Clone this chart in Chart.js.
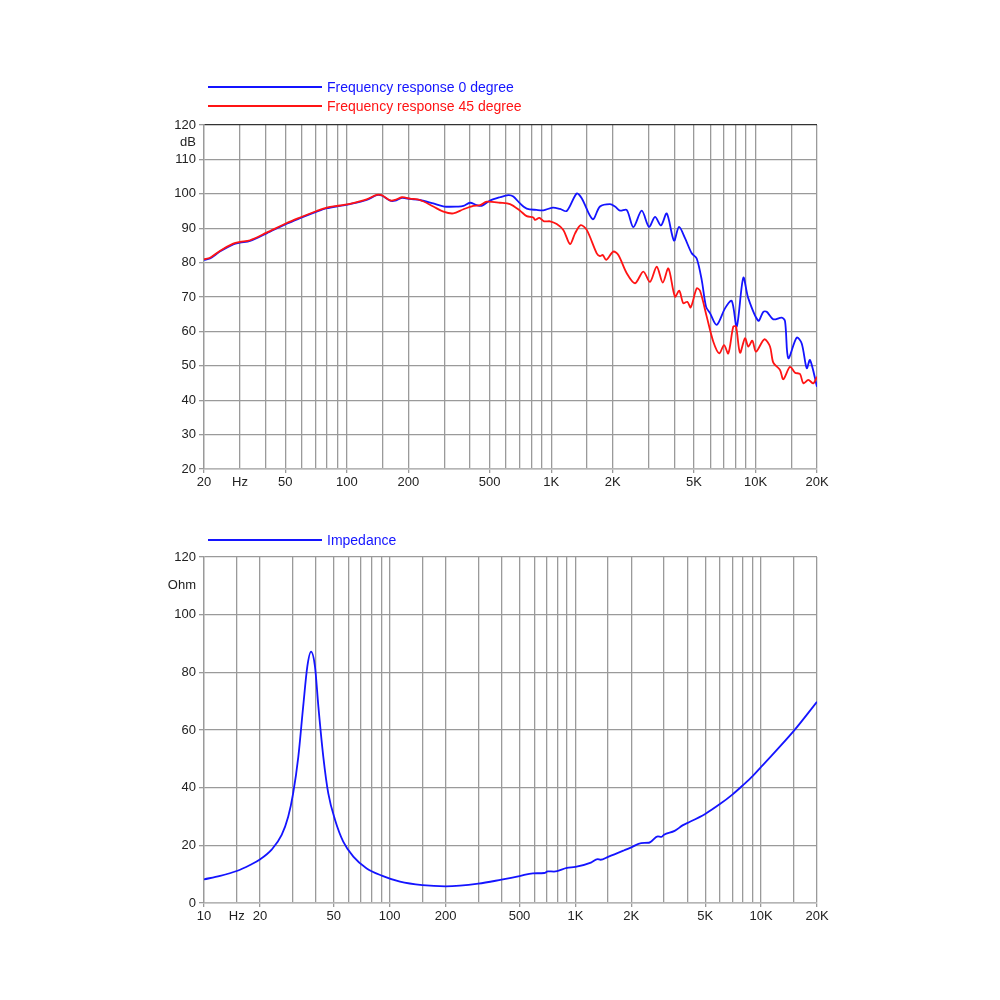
<!DOCTYPE html>
<html>
<head>
<meta charset="utf-8">
<script src="https://cdn.jsdelivr.net/npm/chart.js@4.4.1/dist/chart.umd.min.js"></script>
<style>
  html, body { margin: 0; padding: 0; background: #ffffff; }
  body { width: 1000px; height: 1000px; overflow: hidden; position: relative; }
  .wrap { position: absolute; left: 0; width: 1000px; height: 500px; }
  #w1 { top: 0; }
  #w2 { top: 500px; }
</style>
</head>
<body>
<div class="wrap" id="w1"><canvas id="c1"></canvas></div>
<div class="wrap" id="w2"><canvas id="c2"></canvas></div>
<script>
// ---------- Data ----------
const seriesNames = ['Frequency response 0 degree', 'Frequency response 45 degree', 'Impedance'];

const freq0 = [20,21.4,23.9,27.8,30,33.6,40.5,50.8,59,71.2,79.7,92.6,103.6,125,140,148,163,172,186,204,228,265,300,351,372,401,432,457,502,562,617,653,704,759,850,916,1018,1105,1192,1334,1411,1597,1734,1940,2054,2172,2344,2524,2774,3013,3224,3449,3678,3992,4224,4519,4875,5156,5457,5727,5990,6458,7093,7649,8091,8718,9223,10322,10922,11348,12224,13440,13946,14476,15914,16836,17810,18488,20000];
const spl0 = [80.8,81.2,83.2,85.3,85.8,86.3,88.5,91.3,92.9,94.8,95.8,96.5,97.0,98.2,99.6,99.5,98.0,98.0,98.8,98.5,98.2,97.2,96.3,96.3,96.5,97.4,96.7,96.5,98.0,99.0,99.6,99.2,97.2,95.7,95.3,95.2,96.0,95.6,95.0,100.1,98.7,92.6,96.3,97.0,96.3,95.1,95.3,90.3,95.1,90.4,93.3,90.8,94.3,86.4,90.4,87.1,82.7,81.2,74.9,67.2,65.3,61.9,66.7,68.9,61.4,75.6,69.6,63.1,65.7,65.7,63.5,64.0,63.0,52.2,58.2,56.5,49.3,51.7,43.9];

const freq45 = [20,21.4,23.9,27.8,30,33.6,40.5,50.8,59,71.2,79.7,92.6,103.6,125,140,148,163,172,186,204,228,265,297,332,372,416,449,484,562,629,704,759,818,834,875,923,988,1065,1147,1237,1309,1395,1493,1671,1734,1790,1860,2014,2132,2344,2573,2825,3046,3286,3516,3746,4036,4236,4432,4638,4820,5156,5353,5772,6217,6652,7013,7362,7788,8028,8400,8888,9223,9650,10058,11046,11776,12224,13183,13682,14756,15612,16516,17142,18136,19188,20000];
const spl45 = [81.0,81.4,83.4,85.5,86.0,86.5,88.7,91.5,93.1,95.0,96.0,96.6,97.1,98.4,99.7,99.6,98.1,98.2,99.0,98.6,98.2,96.3,94.8,94.3,95.5,96.5,96.7,97.7,97.4,97.0,95.1,93.5,93.1,92.4,93.0,92.0,92.0,91.2,89.5,85.4,88.5,90.9,89.5,82.7,81.9,82.2,80.8,83.2,82.2,76.9,74.0,77.4,74.4,78.8,74.2,78.3,70.1,71.8,68.2,68.6,67.0,72.5,71.8,64.3,57.0,53.6,56.0,53.6,61.4,61.4,53.8,58.0,55.6,57.3,54.1,57.7,55.6,50.9,48.8,46.1,49.7,48.0,47.6,44.9,45.9,44.9,46.8];

const impFreq = [10,12.2,15,17.7,20,23.2,26.2,28.4,30.2,32.2,34.2,36.0,37.7,39.6,41.3,43.9,46.7,50.8,56.2,63.7,75.2,90.6,113.6,150,200,300,400,500,590,680,710,767,900,1000,1212,1317,1366,1500,1836,2000,2259,2485,2782,2899,3000,3421,3796,4000,5000,6000,7000,8000,9000,10000,15000,20000];
const impOhm = [8.2,9.4,11.1,13.2,15.1,18.6,23.6,29.9,38.0,50.7,68.1,82.0,87.2,82.0,68.1,50.7,38.0,28.8,21.3,16.1,12.0,9.5,7.4,6.2,5.8,6.7,8.1,9.3,10.3,10.4,11.0,10.9,12.2,12.5,14.0,15.2,15.0,16.0,18.3,19.3,20.8,20.9,23.1,22.9,23.7,25.0,27.0,27.7,30.9,34.3,37.6,40.9,44.0,47.2,59.7,69.8];

// Axis ticks / labels
const topFreqGrid = [20,30,40,50,60,70,80,90,100,150,200,300,400,500,600,700,800,900,1000,1500,2000,3000,4000,5000,6000,7000,8000,9000,10000,15000,20000];
const botFreqGrid = [10,15,20,30,40,50,60,70,80,90,100,150,200,300,400,500,600,700,800,900,1000,1500,2000,3000,4000,5000,6000,7000,8000,9000,10000,15000,20000];
const topFreqLabelValues = [20,30,50,100,200,500,1000,2000,5000,10000,20000];
const topFreqLabelTexts  = ['20','Hz','50','100','200','500','1K','2K','5K','10K','20K'];
const botFreqLabelValues = [10,15,20,50,100,200,500,1000,2000,5000,10000,20000];
const botFreqLabelTexts  = ['10','Hz','20','50','100','200','500','1K','2K','5K','10K','20K'];
const splTicks = [20,30,40,50,60,70,80,90,100,110,115,120];
const splUnitValue = 115, splUnitText = 'dB';
const ohmTicks = [0,20,40,60,80,100,110,120];
const ohmUnitValue = 110, ohmUnitText = 'Ohm';

// ---------- Styling helpers ----------
const FONT = '"Liberation Sans", Arial, Helvetica, sans-serif';
const BLUE = '#1414ff';
const RED = '#ff1414';
const GRID = '#9a9a9a';

function pts(xs, ys) { return xs.map((x, i) => ({ x: x, y: ys[i] })); }

const manualLegend = {
  id: 'manualLegend',
  afterDraw(chart, args, opts) {
    const ctx = chart.ctx, a = chart.chartArea;
    chart.data.datasets.forEach((ds, i) => {
      const y = a.top + opts.offsets[i];
      ctx.save();
      ctx.strokeStyle = ds.borderColor;
      ctx.lineWidth = 2;
      ctx.beginPath();
      ctx.moveTo(a.left + 4, y);
      ctx.lineTo(a.left + 118, y);
      ctx.stroke();
      ctx.fillStyle = ds.borderColor;
      ctx.font = '14px ' + FONT;
      ctx.textBaseline = 'middle';
      ctx.textAlign = 'left';
      ctx.fillText(ds.label, a.left + 123, y + 1);
      ctx.restore();
    });
  }
};

function xScale(min, max, grid, labVals, labTexts) {
  return {
    type: 'logarithmic',
    min: min, max: max,
    afterBuildTicks: s => { s.ticks = grid.map(v => ({ value: v })); },
    afterFit: s => { s.height = 30; },
    ticks: {
      autoSkip: false, maxRotation: 0, minRotation: 0, padding: 2,
      color: '#222', font: { family: FONT, size: 13 },
      callback: (v) => { const k = labVals.indexOf(v); return k >= 0 ? labTexts[k] : ''; }
    },
    grid: {
      color: GRID, lineWidth: 1.3, drawTicks: true, tickLength: 4,
      tickColor: (c) => (labVals.indexOf(c.tick.value) >= 0 && labTexts[labVals.indexOf(c.tick.value)] !== 'Hz') ? GRID : 'rgba(0,0,0,0)'
    },
    border: { display: true, color: '#b5b5b5', width: 1.5 }
  };
}

function yScale(min, max, tickVals, unitVal, unitText, topColor) {
  return {
    type: 'linear',
    min: min, max: max,
    afterBuildTicks: s => { s.ticks = tickVals.map(v => ({ value: v })); },
    afterFit: s => { s.width = 44; },
    ticks: {
      padding: 3, color: '#222', font: { family: FONT, size: 13 },
      callback: (v) => v === unitVal ? unitText : String(v)
    },
    grid: {
      lineWidth: 1.3, tickLength: 5, drawTicks: true,
      color: (c) => c.tick.value === unitVal ? 'rgba(0,0,0,0)' : (c.tick.value === max ? topColor : GRID),
      tickColor: (c) => c.tick.value === unitVal ? 'rgba(0,0,0,0)' : GRID
    },
    border: { display: true, color: GRID, width: 1.3 }
  };
}

const common = {
  responsive: true, maintainAspectRatio: false, animation: false,
  devicePixelRatio: 1,
  events: [],
  elements: { point: { radius: 0 } }
};

new Chart(document.getElementById('c1'), {
  type: 'line',
  data: {
    datasets: [
      { label: seriesNames[0], data: pts(freq0, spl0), borderColor: BLUE, borderWidth: 1.8, tension: 0.3, fill: false, order: 2 },
      { label: seriesNames[1], data: pts(freq45, spl45), borderColor: RED, borderWidth: 1.8, tension: 0.3, fill: false, order: 1 }
    ]
  },
  options: Object.assign({}, common, {
    layout: { padding: { left: 160, right: 183, top: 125, bottom: 1 } },
    plugins: { legend: { display: false }, tooltip: { enabled: false }, manualLegend: { offsets: [-38, -19] } },
    scales: {
      x: xScale(20, 20000, topFreqGrid, topFreqLabelValues, topFreqLabelTexts),
      y: yScale(20, 120, splTicks, splUnitValue, splUnitText, '#333333')
    }
  }),
  plugins: [manualLegend]
});

new Chart(document.getElementById('c2'), {
  type: 'line',
  data: {
    datasets: [
      { label: seriesNames[2], data: pts(impFreq, impOhm), borderColor: BLUE, borderWidth: 1.8, cubicInterpolationMode: 'monotone', fill: false }
    ]
  },
  options: Object.assign({}, common, {
    layout: { padding: { left: 160, right: 183, top: 57, bottom: 67 } },
    plugins: { legend: { display: false }, tooltip: { enabled: false }, manualLegend: { offsets: [-17] } },
    scales: {
      x: xScale(10, 20000, botFreqGrid, botFreqLabelValues, botFreqLabelTexts),
      y: yScale(0, 120, ohmTicks, ohmUnitValue, ohmUnitText, GRID)
    }
  }),
  plugins: [manualLegend]
});
</script>
</body>
</html>
